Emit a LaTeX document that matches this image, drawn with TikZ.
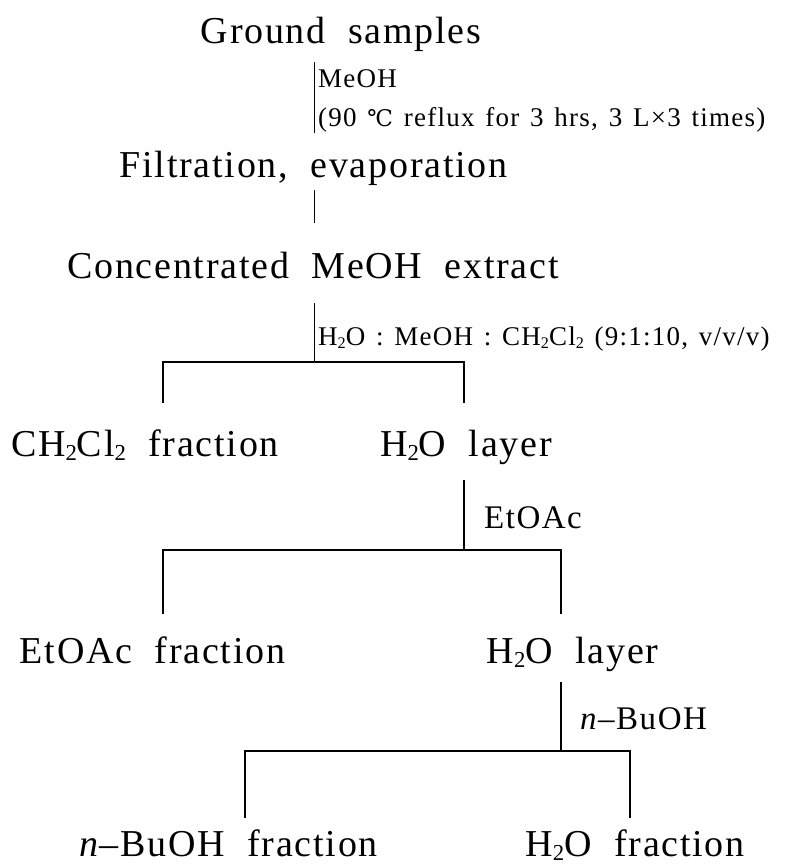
\documentclass[tikz,border=0pt]{standalone}
\usepackage{graphicx}
\usepackage{fontspec}
\setmainfont[LetterSpace=4.6,WordSpace=2]{Liberation Serif}
\newfontfamily\degfont[Scale=0.85]{DejaVu Serif}
\newcommand\condspace{\spaceskip=0.4em plus 0.1em\relax}
\newcommand\chemsub[1]{\raisebox{-0.25ex}{\scalebox{0.6}{#1}}}
\usetikzlibrary{calc}

\begin{document}
\begin{tikzpicture}[x=1pt, y=-1pt,
    stage/.style={font=\fontsize{38}{42}\selectfont, inner sep=0pt,
                  text height=26pt, text depth=8pt, anchor=base},
    cond/.style={font=\fontsize{27}{30}\selectfont\condspace,
                 inner sep=0pt, anchor=base west},
    solv/.style={font=\fontsize{33}{36}\selectfont, inner sep=0pt, anchor=base west},
    link/.style={line width=0.9pt},
    split/.style={line width=1.8pt, line join=miter}
  ]
    \useasboundingbox (0,0) rectangle (788,866);

    \node[stage] (ground) at (341,44) {Ground samples};
    \node[stage] (filt) at (313.5,178) {Filtration, evaporation};
    \node[stage] (conc) at (313,278) {Concentrated MeOH extract};
    \node[stage] (dcm) at (145,456) {CH\chemsub{2}Cl\chemsub{2} fraction};
    \node[stage] (aq1) at (466,456) {H\chemsub{2}O layer};
    \node[stage] (etf) at (152.5,663) {EtOAc fraction};
    \node[stage] (aq2) at (572.5,663) {H\chemsub{2}O layer};
    \node[stage] (buf) at (228.5,856) {\textit{n}--BuOH fraction};
    \node[stage] (aqf) at (635,856) {H\chemsub{2}O fraction};

    \node[cond] (meoh) at (318,88) {MeOH};
    \node[cond] (reflux) at (318,127) {(90 {\degfont ℃} reflux for 3 hrs, 3 L×3 times)};
    \node[cond] (ratio) at (318,345)
      {H\chemsub{2}O : MeOH : CH\chemsub{2}Cl\chemsub{2} (9:1:10, v/v/v)};
    \node[solv] (etoac) at (484,528) {EtOAc};
    \node[solv] (buoh) at (580,729) {\textit{n}--BuOH};

    \coordinate (t0) at (314,0);
    \coordinate (j1) at (314,362);
    \coordinate (j1l) at (163,362);
    \coordinate (j1r) at (464,362);
    \coordinate (j2) at (464,550);
    \coordinate (j2l) at (163,550);
    \coordinate (j2r) at (561,550);
    \coordinate (j3) at (561,751);
    \coordinate (j3l) at (245,751);
    \coordinate (j3r) at (630,751);

    \draw[link, shorten <=10pt, shorten >=19pt] (ground.south -| t0) -- (filt.north -| t0);
    \draw[link, shorten <=4pt, shorten >=29pt] (filt.south -| t0) -- (conc.north -| t0);
    \draw[link, shorten <=17pt] (conc.south -| t0) -- (j1);
    \draw[split] ($(dcm.north -| j1l)+(0,-27)$) -- (j1l) -- (j1r)
      -- ($(aq1.north -| j1r)+(0,-27)$);

    \draw[split, shorten <=16pt] (aq1.south -| j2) -- (j2);
    \draw[split] ($(etf.north -| j2l)+(0,-23)$) -- (j2l) -- (j2r)
      -- ($(aq2.north -| j2r)+(0,-23)$);

    \draw[split, shorten <=11pt] (aq2.south -| j3) -- (j3);
    \draw[split] ($(buf.north -| j3l)+(0,-12)$) -- (j3l) -- (j3r)
      -- ($(aqf.north -| j3r)+(0,-12)$);
  \end{tikzpicture}
\end{document}
